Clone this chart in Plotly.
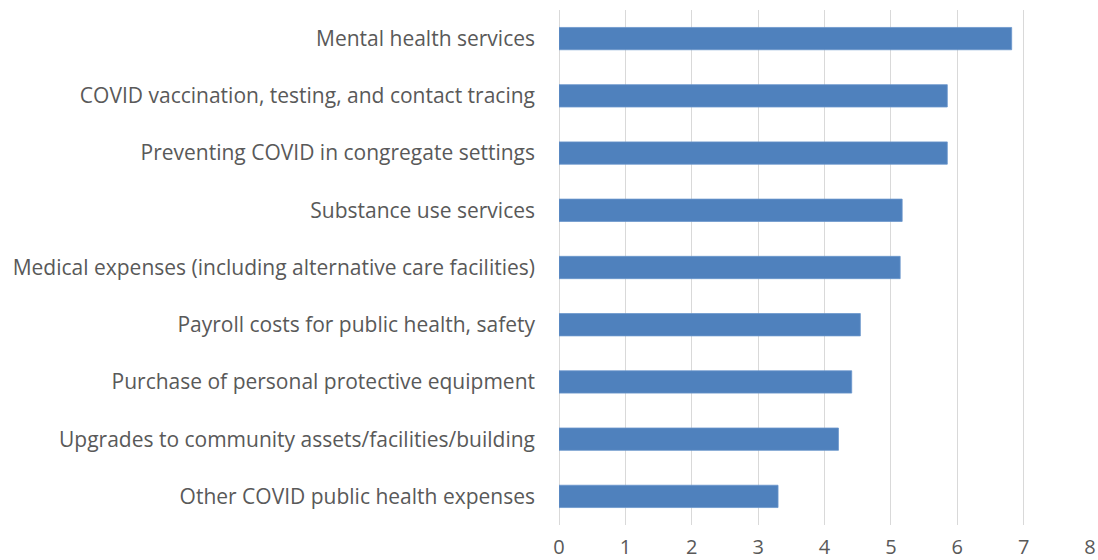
import plotly.graph_objects as go

# Categorías de abajo hacia arriba (orden del eje Y)
categorias = [
    "Other COVID public health expenses",
    "Upgrades to community assets/facilities/building",
    "Purchase of personal protective equipment",
    "Payroll costs for public health, safety",
    "Medical expenses (including alternative care facilities)",
    "Substance use services",
    "Preventing COVID in congregate settings",
    "COVID vaccination, testing, and contact tracing",
    "Mental health services",
]
valores = [3.30, 4.21, 4.41, 4.54, 5.14, 5.17, 5.85, 5.85, 6.82]
x_ticks = [0, 1, 2, 3, 4, 5, 6, 7, 8]

fig = go.Figure()

fig.add_trace(go.Bar(
    x=valores,
    y=categorias,
    orientation="h",
    marker=dict(color="#4F81BD", line=dict(color="#6A96CC", width=0.8)),
    hoverinfo="x+y",
))

fig.update_layout(
    width=1098,
    height=560,
    margin=dict(l=559, r=8, t=10, b=35),
    plot_bgcolor="white",
    paper_bgcolor="white",
    bargap=0.61,
    showlegend=False,
    font=dict(family="Open Sans, sans-serif", color="#595959"),
)

fig.update_xaxes(
    range=[0, 8],
    tickvals=x_ticks,
    automargin=False,
    showgrid=True,
    gridcolor="#D9D9D9",
    gridwidth=1,
    zeroline=True,
    zerolinecolor="#D9D9D9",
    zerolinewidth=1,
    showline=False,
    tickfont=dict(size=20, color="#595959"),
    ticklabelstandoff=8,
)

fig.update_yaxes(
    automargin=False,
    showgrid=False,
    showline=False,
    tickfont=dict(size=21, color="#595959"),
    ticklabelstandoff=23,
)

# quitar el margen del body para que la figura ocupe la ventana exacta
fig.write_html(
    "out.html",
    config={"displayModeBar": False},
    post_script="document.body.style.margin='0';document.body.style.overflow='hidden';",
)
